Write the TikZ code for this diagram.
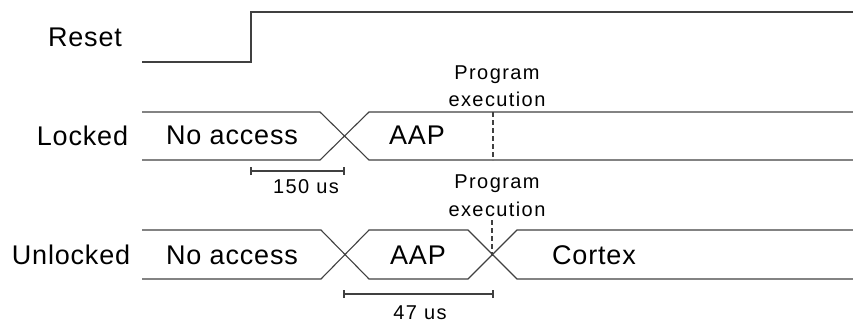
\documentclass[tikz,border=0pt]{standalone}
\usepackage{fontspec}
\setmainfont{Liberation Sans}
\newfontfamily\bigf[LetterSpace=3]{Liberation Sans}
\newfontfamily\smallf[LetterSpace=7]{Liberation Sans}
\begin{document}
\begin{tikzpicture}[x=1pt,y=-1pt,
  wave/.style={line width=1.1pt, draw=black!75},
  dashline/.style={wave, dash pattern=on 5pt off 3pt},
  big/.style={font=\fontsize{27}{30}\selectfont\bigf, inner sep=0pt, anchor=center},
  small/.style={font=\fontsize{20}{22}\selectfont\smallf, inner sep=0pt, anchor=center}]
\useasboundingbox (0,0) rectangle (853,325);

% labels
\node[big] (lreset) at (85,37) {Reset};
\node[big] (llocked) at (82.5,136) {Locked};
\node[big] (lunlocked) at (71,255) {Unlocked};

% Reset waveform
\coordinate (r0) at (142,62);
\coordinate (r1) at (251,62);
\coordinate (r2) at (251,12);
\coordinate (r3) at (853,12);
\draw[wave] (r0) -- (r1) -- (r2) -- (r3);

% Locked bus
\coordinate (la) at (142,112);
\coordinate (lb) at (142,160);
\coordinate (lc) at (320,112);
\coordinate (ld) at (320,160);
\coordinate (le) at (369,112);
\coordinate (lf) at (369,160);
\coordinate (lg) at (853,112);
\coordinate (lh) at (853,160);
\draw[wave] (la) -- (lc) -- (lf) -- (lh);
\draw[wave] (lb) -- (ld) -- (le) -- (lg);
\node[big] (lna) at (232,135) {No access};
\node[big] (laap) at (417,135) {AAP};

% Locked program execution marker
\coordinate (pe1t) at (493,112);
\coordinate (pe1b) at (493,160);
\draw[dashline] (pe1t) -- (pe1b);
\node[small] (prog1) at (497,75) {Program};
\node[small] (exec1) at (497,99) {execution};

% 150 us bracket
\coordinate (b1a) at (251,171);
\coordinate (b1b) at (344,171);
\draw[wave] (b1a) -- (b1b);
\draw[wave] ([yshift=-4pt]b1a) -- ([yshift=4pt]b1a);
\draw[wave] ([yshift=-4pt]b1b) -- ([yshift=4pt]b1b);
\node[small] (t150) at (306,187) {150 us};

% Unlocked bus
\coordinate (ua) at (142,230);
\coordinate (ub) at (142,279);
\coordinate (uc) at (321,230);
\coordinate (ud) at (321,279);
\coordinate (ue) at (369,230);
\coordinate (uf) at (369,279);
\coordinate (ug) at (468,230);
\coordinate (uh) at (468,279);
\coordinate (ui) at (517,230);
\coordinate (uj) at (517,279);
\coordinate (uk) at (853,230);
\coordinate (ul) at (853,279);
\draw[wave] (ua) -- (uc) -- (uf) -- (uh) -- (ui) -- (uk);
\draw[wave] (ub) -- (ud) -- (ue) -- (ug) -- (uj) -- (ul);
\node[big] (una) at (232,255) {No access};
\node[big] (uaap) at (418,255) {AAP};
\node[big] (ucortex) at (594,255) {Cortex};

% Unlocked program execution marker
\coordinate (pe2t) at (492,220);
\coordinate (pe2b) at (492,256);
\draw[dashline] (pe2t) -- (pe2b);
\node[small] (prog2) at (497,184) {Program};
\node[small] (exec2) at (497,209) {execution};

% 47 us bracket
\coordinate (b2a) at (344,294);
\coordinate (b2b) at (493,294);
\draw[wave] (b2a) -- (b2b);
\draw[wave] ([yshift=-4pt]b2a) -- ([yshift=4pt]b2a);
\draw[wave] ([yshift=-4pt]b2b) -- ([yshift=4pt]b2b);
\node[small] (t47) at (420,313) {47 us};
\end{tikzpicture}
\end{document}
